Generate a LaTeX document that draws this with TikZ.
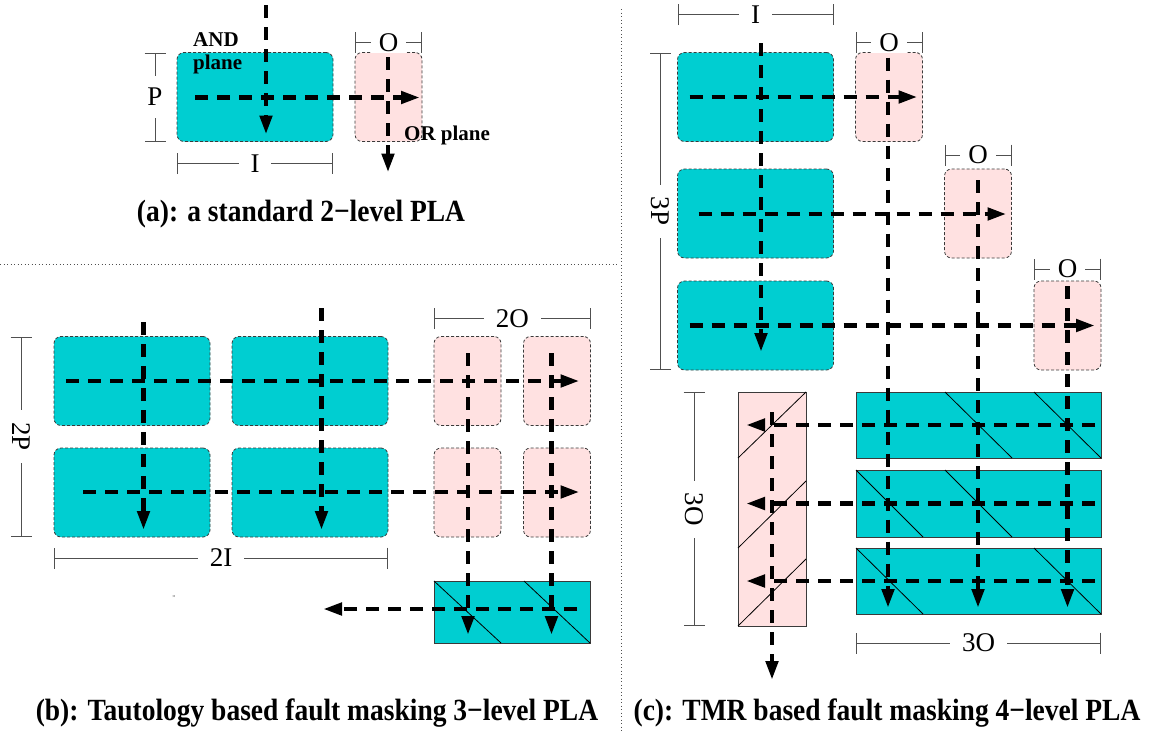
\documentclass[tikz,border=0pt]{standalone}
\usepackage{fontspec}
\setmainfont{Liberation Serif}[BoldFont={Liberation Serif Bold}]
\usetikzlibrary{arrows.meta, positioning, calc}
\definecolor{andFill}{HTML}{00CED1}
\definecolor{orFill}{HTML}{FFE1E1}
\definecolor{edgeGray}{HTML}{3A3A3A}
\definecolor{dimGray}{HTML}{505050}

\begin{document}
\begin{tikzpicture}[
    x=1pt, y=-1pt,
    % Plane styles
    andpl/.style={
        rectangle,
        rounded corners=7pt,
        draw=edgeGray,
        dash pattern=on 3pt off 2pt,
        line width=0.8pt,
        fill=andFill,
        minimum width=156pt,
        minimum height=89pt,
        inner sep=0pt, outer sep=0pt
    },
    orpl/.style={andpl, fill=orFill, minimum width=67pt},
    hatchbox/.style={
        rectangle,
        draw=edgeGray,
        line width=1pt,
        fill=andFill,
        inner sep=0pt, outer sep=0pt
    },
    hatch/.style={draw=black, line width=0.8pt},
    % Signal style
    sig/.style={
        -{Triangle[length=19pt, width=12pt]},
        line width=4.6pt,
        dash pattern=on 13pt off 9pt
    },
    % Dimension lines
    dim/.style={{Bar[width=21pt]}-{Bar[width=21pt]}, draw=dimGray, line width=0.8pt},
    dimlabel/.style={fill=white, inner xsep=12pt, inner ysep=1pt, font=\fontsize{27}{27}\selectfont},
    caption/.style={font=\fontsize{27.5}{30}\selectfont\bfseries, yscale=1.12},
    plabel/.style={font=\fontsize{21}{23}\selectfont\bfseries, align=left, inner sep=0pt}
]
    \useasboundingbox (0,0) rectangle (1156,731);

    % --- Dividers ---
    \draw[dimGray, line width=0.8pt, dash pattern=on 1pt off 2.5pt] (0,264) -- (617,264);
    \draw[dimGray, line width=0.8pt, dash pattern=on 1pt off 2.5pt] (621,9) -- (621,731);

    % --- (a) standard 2-level PLA ---
    \node[andpl] (andA) at (255,97) {};
    \node[orpl] (orA) at (388.5,97) {};
    \node[plabel, anchor=north west] (andLbl) at (193,32) {AND\\plane};
    \node[plabel, anchor=west] (orLbl) at (404,135) {OR plane};

    \coordinate (aIin) at (266,5);
    \coordinate (aPin) at (195,97.5);
    \coordinate (aOin) at (388,57);
    \draw[sig] (aIin) -- ($(aIin |- andA.south)+(0,-7)$);
    \draw[sig] (aPin) -- ($(orA.east)+(-2,0.5)$);
    \draw[sig] (aOin) -- ($(aOin |- orA.south)+(0,31)$);

    \draw[dim] ($(andA.north west)+(-22,0)$) -- node[dimlabel, inner xsep=1pt, inner ysep=12pt] {P} ($(andA.south west)+(-22,0)$);
    \draw[dim] ($(andA.south west)+(0,22)$) -- node[dimlabel] {I} ($(andA.south east)+(0,22)$);
    \draw[dim] ($(orA.north west)+(0,-10)$) -- node[dimlabel, inner xsep=8pt] {O} ($(orA.north east)+(0,-10)$);

    \node[caption] (capA) at (301,214) {(a): a standard 2−level PLA};

    % --- (b) tautology based 3-level PLA ---
    \node[andpl] (andB1) at (132,381) {};
    \node[andpl] (andB2) at (310,381) {};
    \node[andpl] (andB3) at (132,492.5) {};
    \node[andpl] (andB4) at (310,492.5) {};
    \node[orpl] (orB1) at (467.5,381) {};
    \node[orpl] (orB2) at (557,381) {};
    \node[orpl] (orB3) at (467.5,492.5) {};
    \node[orpl] (orB4) at (557,492.5) {};
    \node[hatchbox, minimum width=156pt, minimum height=62pt] (tautB) at (512,612) {};
    \draw[hatch] (tautB.north west) -- ($(tautB.south west)+(67,0)$);
    \draw[hatch] ($(tautB.north west)+(90,0)$) -- (tautB.south east);
    \node[font=\fontsize{7}{7}\selectfont, text=dimGray, inner sep=0pt] (stray) at (174,598) {''};

    \coordinate (bI1) at (143.5,322);
    \coordinate (bI2) at (321.5,308);
    \coordinate (bP1) at (66,381);
    \coordinate (bP2) at (83,492);
    \coordinate (bO1) at (468,353);
    \coordinate (bO2) at (551.5,353);
    \coordinate (bOut) at (323,609);
    \draw[sig] (bI1) -- ($(bI1 |- andB3.south)+(0,-7)$);
    \draw[sig] (bI2) -- ($(bI2 |- andB4.south)+(0,-7)$);
    \draw[sig] (bP1) -- ($(orB2.east)+(-11,0)$);
    \draw[sig] (bP2) -- ($(orB4.east)+(-11,-0.5)$);
    \draw[sig] (bO1) -- ($(bO1 |- tautB.south)+(0,-8)$);
    \draw[sig] (bO2) -- ($(bO2 |- tautB.south)+(0,-8)$);
    \draw[sig] ($(tautB.east)+(-13,-3)$) -- (bOut);

    \draw[dim] ($(andB1.north west)+(-33,0)$) -- node[dimlabel, rotate=-90] {2P} ($(andB3.south west)+(-33,0)$);
    \draw[dim] ($(andB3.south west)+(0,21)$) -- node[dimlabel] {2I} ($(andB4.south east)+(0,21)$);
    \draw[dim] ($(orB1.north west)+(0,-18)$) -- node[dimlabel] {2O} ($(orB2.north east)+(0,-18)$);

    \node[caption] (capB) at (317,713) {(b): Tautology based fault masking 3−level PLA};

    % --- (c) TMR based 4-level PLA ---
    \node[andpl] (andC1) at (755.5,97) {};
    \node[andpl] (andC2) at (755.5,213.5) {};
    \node[andpl] (andC3) at (755.5,325.5) {};
    \node[orpl] (orC1) at (889,97) {};
    \node[orpl] (orC2) at (978,213.5) {};
    \node[orpl] (orC3) at (1067.5,325.5) {};
    \node[hatchbox, minimum width=245pt, minimum height=66pt] (tmrC1) at (978.5,425) {};
    \node[hatchbox, minimum width=245pt, minimum height=67pt] (tmrC2) at (978.5,503.5) {};
    \node[hatchbox, minimum width=245pt, minimum height=66pt] (tmrC3) at (978.5,581) {};
    \node[hatchbox, fill=orFill, minimum width=68pt, minimum height=234pt] (voteC) at (772,509) {};

    \draw[hatch] ($(tmrC1.north west)+(89,0)$) -- ($(tmrC1.south west)+(156,0)$);
    \draw[hatch] ($(tmrC1.north west)+(178,0)$) -- (tmrC1.south east);
    \draw[hatch] (tmrC2.north west) -- ($(tmrC2.south west)+(67,0)$);
    \draw[hatch] ($(tmrC2.north west)+(89,0)$) -- ($(tmrC2.south west)+(156,0)$);
    \draw[hatch] (tmrC3.north west) -- ($(tmrC3.south west)+(67,0)$);
    \draw[hatch] ($(tmrC3.north west)+(178,0)$) -- (tmrC3.south east);
    \draw[hatch] ($(voteC.north west)+(0,66)$) -- (voteC.north east);
    \draw[hatch] ($(voteC.north west)+(0,156)$) -- ($(voteC.north east)+(0,89)$);
    \draw[hatch] (voteC.south west) -- ($(voteC.north east)+(0,167)$);

    \coordinate (cIin) at (761,43);
    \draw[sig] (cIin) -- ($(cIin |- andC3.south)+(0,-18)$);
    \draw[sig] ($(andC1.west)+(12,0)$) -- ($(orC1.east)+(-5,0)$);
    \draw[sig] ($(andC2.west)+(21,0.5)$) -- ($(orC2.east)+(-5,0.5)$);
    \draw[sig] ($(andC3.west)+(12,0)$) -- ($(orC3.east)+(-6,0)$);
    \draw[sig] ($(orC1.north)+(-1,5)$) -- ($(orC1.north |- tmrC3.south)+(-1,-6)$);
    \draw[sig] ($(orC2.north)+(0,11)$) -- ($(orC2.north |- tmrC3.south)+(0,-6)$);
    \draw[sig] ($(orC3.north)+(0,5)$) -- ($(orC3.north |- tmrC3.south)+(0,-6)$);
    \draw[sig] ($(tmrC1.east)+(-6,0)$) -- ($(tmrC1.east -| voteC.west)+(8,0)$);
    \draw[sig] ($(tmrC2.east)+(-6,0)$) -- ($(tmrC2.east -| voteC.west)+(8,0)$);
    \draw[sig] ($(tmrC3.east)+(-6,0)$) -- ($(tmrC3.east -| voteC.west)+(8,0)$);
    \draw[sig] ($(voteC.north)+(0,20)$) -- ($(voteC.south)+(0,54)$);

    \draw[dim] ($(andC1.north west)+(0,-38)$) -- node[dimlabel] {I} ($(andC1.north east)+(0,-38)$);
    \draw[dim] ($(andC1.north west)+(-17,0)$) -- node[dimlabel, rotate=-90] {3P} ($(andC3.south west)+(-17,0)$);
    \draw[dim] ($(orC1.north west)+(0,-10)$) -- node[dimlabel, inner xsep=8pt] {O} ($(orC1.north east)+(0,-10)$);
    \draw[dim] ($(orC2.north west)+(0,-14)$) -- node[dimlabel, inner xsep=8pt] {O} ($(orC2.north east)+(0,-14)$);
    \draw[dim] ($(orC3.north west)+(0,-12)$) -- node[dimlabel, inner xsep=8pt] {O} ($(orC3.north east)+(0,-12)$);
    \draw[dim] ($(voteC.north west)+(-44,0)$) -- node[dimlabel, rotate=-90] {3O} ($(voteC.south west)+(-44,0)$);
    \draw[dim] ($(tmrC3.south west)+(0,29)$) -- node[dimlabel] {3O} ($(tmrC3.south east)+(0,29)$);

    \node[caption] (capC) at (887,713) {(c): TMR based fault masking 4−level PLA};

\end{tikzpicture}
\end{document}
